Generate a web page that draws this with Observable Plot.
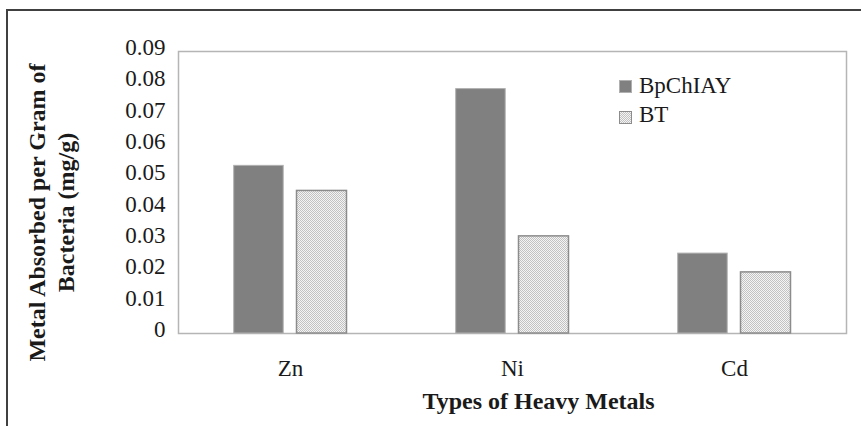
<!DOCTYPE html>
<html><head><meta charset="utf-8">
<script src="https://cdn.jsdelivr.net/npm/d3@7"></script>
<script src="https://cdn.jsdelivr.net/npm/@observablehq/plot@0.6"></script>
<style>
body{margin:0;background:#fff;}
#wrap{position:relative;width:861px;height:426px;overflow:hidden;font-family:"Liberation Serif","Times New Roman",serif;color:#1a1a1a;}
#border{position:absolute;left:6px;top:9px;width:1000px;height:1000px;border:2px solid #404040;pointer-events:none;}
#chart{position:absolute;left:0;top:0;}
.lg-sw{position:absolute;box-sizing:border-box;}
.lg-tx{position:absolute;font-size:23px;line-height:23px;white-space:nowrap;}
</style></head><body>
<div id="wrap"><div id="border"></div><div id="chart"></div><div id="legend"></div></div>
<script>
const metals = ["Zn", "Ni", "Cd"];
const seriesNames = ["BpChIAY", "BT"];
const bpchiayValues = [0.0535, 0.078, 0.0255];
const btValues = [0.0455, 0.031, 0.0195];
const yTicks = [0, 0.01, 0.02, 0.03, 0.04, 0.05, 0.06, 0.07, 0.08, 0.09];
const xTitle = "Types of Heavy Metals";
const yTitle = "Metal Absorbed per Gram of\nBacteria (mg/g)";

const darkData = metals.map((m, i) => ({metal: m, value: bpchiayValues[i]}));
const lightData = metals.map((m, i) => ({metal: m, value: btValues[i]}));

const font = '"Liberation Serif", "Times New Roman", serif';

const chart = Plot.plot({
  width: 861,
  height: 426,
  marginLeft: 178,
  marginRight: 15,
  marginTop: 51,
  marginBottom: 93,
  style: {fontFamily: font, fontSize: "23px", color: "#1a1a1a", background: "transparent"},
  x: {domain: metals, padding: 0, label: null},
  y: {domain: [0, 0.09], label: null},
  marks: [
    Plot.frame({stroke: "#b5b5b5", strokeWidth: 1.5}),
    Plot.barY(darkData, {x: "metal", y: "value", fill: "#808080", stroke: "#b0b0b0", strokeWidth: 1, insetLeft: 54.7, insetRight: 117.8}),
    Plot.barY(lightData, {x: "metal", y: "value", fill: "url(#btHatch)", stroke: "#8c8c8c", strokeWidth: 1.5, insetLeft: 117.5, insetRight: 54.5}),
    Plot.axisY({ticks: yTicks, tickFormat: d => d === 0 ? "0" : d.toFixed(2), tickSize: 0, tickPadding: 13, fontSize: 23, dy: -4, label: null}),
    Plot.axisX({tickSize: 0, tickPadding: 26, fontSize: 23, label: null}),
    Plot.text([yTitle], {frameAnchor: "left", text: d => d, rotate: -90, dx: -128, dy: 20, fontWeight: "bold", fontSize: 24, lineHeight: 1.17, textAnchor: "middle", lineAnchor: "middle", fill: "#1a1a1a"}),
    Plot.text([xTitle], {frameAnchor: "bottom", text: d => d, dx: 26, dy: 68, fontWeight: "bold", fontSize: 24, textAnchor: "middle", lineAnchor: "middle", fill: "#1a1a1a"})
  ]
});

// hatch pattern for BT bars
const NS = "http://www.w3.org/2000/svg";
const defs = document.createElementNS(NS, "defs");
const pat = document.createElementNS(NS, "pattern");
pat.setAttribute("id", "btHatch");
pat.setAttribute("width", "2");
pat.setAttribute("height", "2");
pat.setAttribute("patternUnits", "userSpaceOnUse");
[[0, 0, 2, 2, "#f4f4f4"], [0, 0, 1, 1, "#c2c2c2"], [1, 1, 1, 1, "#c2c2c2"]].forEach(([x, y, w, h, c]) => {
  const r = document.createElementNS(NS, "rect");
  r.setAttribute("x", x); r.setAttribute("y", y);
  r.setAttribute("width", w); r.setAttribute("height", h);
  r.setAttribute("fill", c);
  pat.appendChild(r);
});
defs.appendChild(pat);
chart.insertBefore(defs, chart.firstChild);
document.getElementById("chart").appendChild(chart);

// legend inside plot area
const legend = document.getElementById("legend");
const swatchStyles = [
  "background:#808080;border:1px solid #b0b0b0;",
  "background:repeating-conic-gradient(#c2c2c2 0 25%, #f4f4f4 0 50%) 0 0/2px 2px;border:1.5px solid #8c8c8c;"
];
seriesNames.forEach((name, i) => {
  const sw = document.createElement("div");
  sw.className = "lg-sw";
  sw.style.cssText = `left:${619}px;top:${80 + i * 31}px;width:13px;height:13px;` + swatchStyles[i];
  legend.appendChild(sw);
  const tx = document.createElement("div");
  tx.className = "lg-tx";
  tx.style.left = "639px";
  tx.style.top = (74 + i * 29) + "px";
  tx.textContent = name;
  legend.appendChild(tx);
});
</script>
</body></html>
